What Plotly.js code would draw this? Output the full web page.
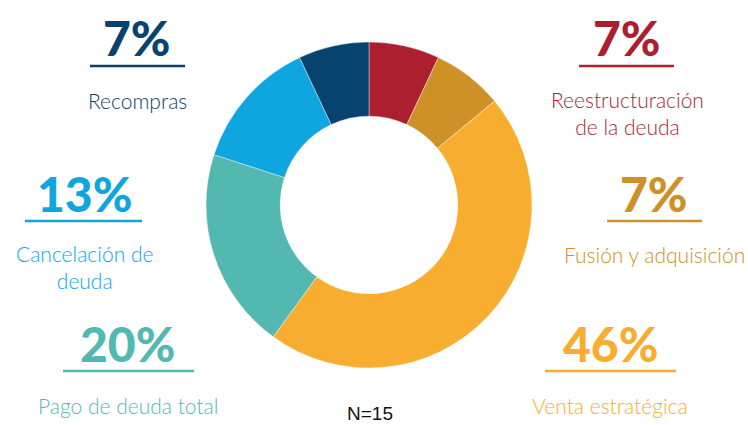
<!DOCTYPE html>
<html>
<head>
<meta charset="utf-8">
<script src="https://cdn.plot.ly/plotly-3.0.1.min.js"></script>
<style>html,body{margin:0;padding:0;background:#fff;}#chart{width:748px;height:425px;}</style>
</head>
<body>
<div id="chart"></div>
<script>
// Data (percent of N=15 companies), clockwise from 12 o'clock
var categories = ["Reestructuración<br>de la deuda", "Fusión y adquisición", "Venta estratégica", "Pago de deuda total", "Cancelación de<br>deuda", "Recompras"];
var percents = [7, 7, 46, 20, 13, 7];
var colors = ["#AB1F2E", "#CD9127", "#F7AD2F", "#53B9B0", "#0FA5DF", "#07436E"];
var totalLabel = "N=15";

// label placement (pixel centres) for each category: [pctX, pctY, lineX0, lineX1, lineY, textY]
var W = 748, H = 425;
var place = [
  [627, 38, 579, 674, 66, 113],
  [654, 193, 607, 702, 221, 254],
  [610, 343, 545, 676, 371, 405],
  [128, 343, 63, 194, 371, 405],
  [84, 193, 25, 142, 221, 267],
  [137, 38, 90, 185, 66, 100]
];

var annotations = [], shapes = [];
function px(x){return x/W;}
function py(y){return 1 - y/H;}
for (var i=0;i<categories.length;i++){
  var p = place[i];
  annotations.push({
    x: px(p[0]), y: py(p[1]), xref:'paper', yref:'paper', showarrow:false,
    xanchor:'center', yanchor:'middle',
    text: percents[i] + '%',
    font:{family:'Lato', size:48, color:colors[i], weight:900}
  });
  annotations.push({
    x: px(p[0]), y: py(p[5]), xref:'paper', yref:'paper', showarrow:false,
    xanchor:'center', yanchor:'middle', align:'center',
    text: categories[i],
    font:{family:'Lato', size:21, color:colors[i], weight:300}
  });
  shapes.push({type:'line', xref:'paper', yref:'paper',
    x0:px(p[2]), x1:px(p[3]), y0:py(p[4]), y1:py(p[4]),
    line:{color:colors[i], width:2.5}});
}
annotations.push({x:px(370), y:py(413), xref:'paper', yref:'paper', showarrow:false,
  xanchor:'center', yanchor:'middle', text: totalLabel, borderpad:0,
  font:{family:'Liberation Sans', size:19, color:'#111'}});

var trace = {
  type:'pie', labels: categories, values: percents,
  marker:{colors: colors, line:{color:'#ffffff', width:0.4}},
  hole: 0.545, sort:false, direction:'clockwise', rotation:0,
  textinfo:'none', hoverinfo:'none', showlegend:false,
  domain:{x:[206/W, 532/W], y:[1-368/H, 1-42/H]}
};
var layout = {
  width:W, height:H, margin:{l:0,r:0,t:0,b:0},
  paper_bgcolor:'#fff', plot_bgcolor:'#fff',
  showlegend:false, annotations:annotations, shapes:shapes
};
Plotly.newPlot('chart', [trace], layout, {staticPlot:true, displayModeBar:false});
</script>
</body>
</html>
